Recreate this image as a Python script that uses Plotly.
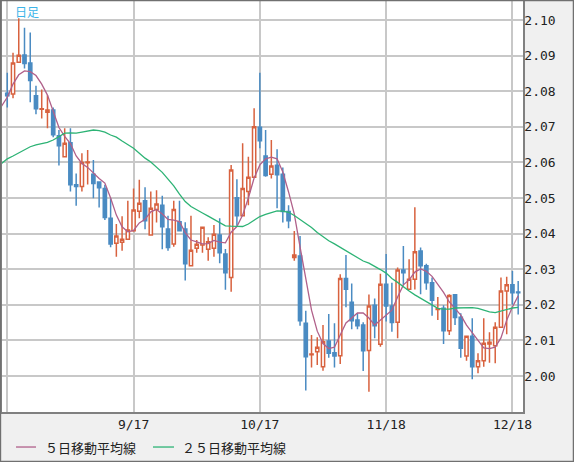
import plotly.graph_objects as go

# daily candles (index 0 = first visible day)
opens = [2.0794, 2.0792, 2.0881, 2.0902, 2.0879, 2.0787, 2.0749, 2.0741, 2.0747, 2.0675,
         2.0616, 2.0655, 2.0537, 2.0532, 2.0599, 2.0567, 2.0545, 2.0527, 2.0443, 2.0373,
         2.0376, 2.0384, 2.0408, 2.0463, 2.0492, 2.0396, 2.0468, 2.0480, 2.0413, 2.0371,
         2.0433, 2.0413, 2.0310, 2.0359, 2.0368, 2.0356, 2.0359, 2.0396, 2.0343, 2.0277,
         2.0501, 2.0450, 2.0518, 2.0558, 2.0699, 2.0618, 2.0567, 2.0592, 2.0567, 2.0462,
         2.0333, 2.0337, 2.0148, 2.0060, 2.0068, 2.0026, 2.0098, 2.0065, 2.0057, 2.0274,
         2.0207, 2.0157, 2.0143, 2.0072, 2.0199, 2.0089, 2.0258, 2.0197, 2.0151, 2.0298,
         2.0244, 2.0272, 2.0351, 2.0310, 2.0262, 2.0187, 2.0190, 2.0127, 2.0228, 2.0165,
         2.0056, 2.0112, 2.0026, 2.0043, 2.0090, 2.0085, 2.0137, 2.0239, 2.0256, 2.0236]
highs = [2.0852, 2.0908, 2.1005, 2.0978, 2.0965, 2.0815, 2.0805, 2.0789, 2.0754, 2.0691,
         2.0696, 2.0696, 2.0569, 2.0626, 2.0635, 2.0607, 2.0546, 2.0537, 2.0499, 2.0427,
         2.0449, 2.0492, 2.0527, 2.0551, 2.0530, 2.0518, 2.0522, 2.0506, 2.0450, 2.0492,
         2.0492, 2.0432, 2.0450, 2.0382, 2.0419, 2.0390, 2.0424, 2.0443, 2.0357, 2.0593,
         2.0553, 2.0654, 2.0616, 2.0752, 2.0852, 2.0691, 2.0663, 2.0637, 2.0586, 2.0480,
         2.0407, 2.0393, 2.0183, 2.0115, 2.0109, 2.0143, 2.0174, 2.0148, 2.0286, 2.0340,
         2.0260, 2.0176, 2.0151, 2.0229, 2.0218, 2.0287, 2.0343, 2.0262, 2.0305, 2.0365,
         2.0328, 2.0474, 2.0361, 2.0315, 2.0277, 2.0222, 2.0199, 2.0230, 2.0229, 2.0176,
         2.0113, 2.0162, 2.0064, 2.0162, 2.0123, 2.0151, 2.0277, 2.0279, 2.0295, 2.0267]
lows = [2.0754, 2.0780, 2.0880, 2.0864, 2.0769, 2.0735, 2.0723, 2.0696, 2.0671, 2.0591,
        2.0614, 2.0518, 2.0478, 2.0518, 2.0538, 2.0499, 2.0473, 2.0438, 2.0362, 2.0335,
        2.0352, 2.0382, 2.0405, 2.0443, 2.0412, 2.0394, 2.0431, 2.0356, 2.0352, 2.0363,
        2.0406, 2.0268, 2.0309, 2.0346, 2.0346, 2.0324, 2.0335, 2.0317, 2.0242, 2.0237,
        2.0422, 2.0449, 2.0480, 2.0557, 2.0640, 2.0560, 2.0555, 2.0471, 2.0431, 2.0415,
        2.0324, 2.0141, 1.9959, 2.0024, 2.0031, 2.0015, 2.0051, 2.0024, 2.0034, 2.0193,
        2.0131, 2.0131, 2.0014, 1.9956, 2.0106, 2.0082, 2.0153, 2.0124, 2.0106, 2.0256,
        2.0242, 2.0243, 2.0230, 2.0242, 2.0169, 2.0157, 2.0090, 2.0115, 2.0143, 2.0051,
        2.0043, 1.9991, 2.0008, 2.0026, 2.0037, 2.0036, 2.0136, 2.0117, 2.0200, 2.0173]
closes = [2.0787, 2.0879, 2.0901, 2.0878, 2.0830, 2.0751, 2.0751, 2.0747, 2.0678, 2.0647,
          2.0654, 2.0537, 2.0532, 2.0600, 2.0601, 2.0541, 2.0529, 2.0445, 2.0371, 2.0393,
          2.0384, 2.0410, 2.0466, 2.0485, 2.0436, 2.0471, 2.0483, 2.0419, 2.0361, 2.0468,
          2.0408, 2.0315, 2.0353, 2.0370, 2.0418, 2.0377, 2.0398, 2.0346, 2.0290, 2.0579,
          2.0450, 2.0527, 2.0558, 2.0700, 2.0661, 2.0563, 2.0590, 2.0565, 2.0462, 2.0436,
          2.0340, 2.0155, 2.0054, 2.0062, 2.0081, 2.0096, 2.0064, 2.0056, 2.0274, 2.0244,
          2.0155, 2.0141, 2.0071, 2.0197, 2.0141, 2.0258, 2.0197, 2.0150, 2.0298, 2.0290,
          2.0272, 2.0349, 2.0310, 2.0262, 2.0213, 2.0189, 2.0127, 2.0226, 2.0164, 2.0078,
          2.0112, 2.0026, 2.0043, 2.0092, 2.0095, 2.0137, 2.0239, 2.0256, 2.0234, 2.0234]

# moving averages as drawn (first value is the day before index 0)
ma5 = [2.0758, 2.0783, 2.0820, 2.0846, 2.0857, 2.0855, 2.0844, 2.0820, 2.0789, 2.0744,
       2.0698, 2.0673, 2.0653, 2.0618, 2.0597, 2.0586, 2.0569, 2.0555, 2.0542, 2.0500,
       2.0452, 2.0419, 2.0405, 2.0409, 2.0430, 2.0440, 2.0461, 2.0468, 2.0455, 2.0440,
       2.0438, 2.0434, 2.0403, 2.0382, 2.0377, 2.0371, 2.0372, 2.0381, 2.0376, 2.0374,
       2.0404, 2.0420, 2.0452, 2.0500, 2.0556, 2.0593, 2.0610, 2.0615, 2.0610, 2.0573,
       2.0517, 2.0455, 2.0363, 2.0270, 2.0185, 2.0126, 2.0091, 2.0077, 2.0081, 2.0115,
       2.0149, 2.0163, 2.0177, 2.0177, 2.0163, 2.0143, 2.0157, 2.0171, 2.0185, 2.0222,
       2.0256, 2.0270, 2.0292, 2.0301, 2.0294, 2.0280, 2.0258, 2.0235, 2.0208, 2.0191,
       2.0171, 2.0143, 2.0121, 2.0098, 2.0079, 2.0077, 2.0081, 2.0107, 2.0157, 2.0194,
       2.0225]
ma25 = [2.0597, 2.0610, 2.0618, 2.0626, 2.0636, 2.0644, 2.0649, 2.0652, 2.0656, 2.0663,
        2.0672, 2.0682, 2.0683, 2.0682, 2.0685, 2.0689, 2.0691, 2.0689, 2.0685, 2.0677,
        2.0671, 2.0660, 2.0650, 2.0640, 2.0626, 2.0612, 2.0601, 2.0586, 2.0572, 2.0553,
        2.0534, 2.0511, 2.0490, 2.0476, 2.0466, 2.0458, 2.0449, 2.0440, 2.0431, 2.0422,
        2.0421, 2.0420, 2.0420, 2.0427, 2.0438, 2.0448, 2.0454, 2.0460, 2.0464, 2.0463,
        2.0460, 2.0451, 2.0440, 2.0428, 2.0417, 2.0403, 2.0391, 2.0380, 2.0371, 2.0361,
        2.0351, 2.0341, 2.0331, 2.0323, 2.0317, 2.0309, 2.0299, 2.0289, 2.0274, 2.0263,
        2.0250, 2.0239, 2.0228, 2.0218, 2.0209, 2.0199, 2.0190, 2.0188, 2.0188, 2.0191,
        2.0192, 2.0192, 2.0192, 2.0190, 2.0184, 2.0180, 2.0178, 2.0183, 2.0187, 2.0191,
        2.0193]

tick_idx = [0, 22, 44, 66, 88]
tick_labels = ["", "9/17", "10/17", "11/18", "12/18"]
price_ticks = [2.00, 2.01, 2.02, 2.03, 2.04, 2.05, 2.06, 2.07, 2.08, 2.09, 2.10]

days = list(range(len(opens)))
ma_days = list(range(-1, len(opens)))

UP = "#d8623f"
DOWN = "#4a8bc2"
MA5_COLOR = "#b0608a"
MA25_COLOR = "#2db375"
MONO = "DejaVu Sans Mono"
JP = "Noto Sans CJK JP"

fig = go.Figure()
fig.add_trace(go.Candlestick(
    x=days, open=opens, high=highs, low=lows, close=closes,
    increasing=dict(line=dict(color=UP, width=1.5), fillcolor="white"),
    decreasing=dict(line=dict(color=DOWN, width=1.5), fillcolor=DOWN),
    whiskerwidth=0, showlegend=False, hoverinfo="skip"))
fig.add_trace(go.Scatter(x=ma_days, y=ma5, mode="lines", name="５日移動平均線",
                         line=dict(color=MA5_COLOR, width=1.3), showlegend=False))
fig.add_trace(go.Scatter(x=ma_days, y=ma25, mode="lines", name="２５日移動平均線",
                         line=dict(color=MA25_COLOR, width=1.3), showlegend=False))

# key drawn under the chart, like the original
key_y = -0.0852
key = [(MA5_COLOR, 0.0269, 0.0653, 0.0780, "５日移動平均線"),
       (MA25_COLOR, 0.2898, 0.3301, 0.3410, "２５日移動平均線")]
shapes = [dict(type="rect", xref="paper", yref="paper",
               x0=-0.003, x1=1.0969, y0=-0.1204, y1=1.0012,
               line=dict(color="#707070", width=1.5), layer="above")]
annotations = [dict(text="日足", xref="paper", yref="paper", x=0.022, y=1.0,
                    xanchor="left", yanchor="top", showarrow=False,
                    font=dict(family=JP, size=12, color="#3cb4e8"))]
for color, x0, x1, xt, label in key:
    shapes.append(dict(type="line", xref="paper", yref="paper", x0=x0, x1=x1,
                       y0=key_y, y1=key_y, line=dict(color=color, width=1.3)))
    annotations.append(dict(text=label, xref="paper", yref="paper", x=xt, y=key_y,
                            xanchor="left", yanchor="middle", showarrow=False,
                            font=dict(family=JP, size=13, color="#222222")))

fig.update_layout(
    width=574, height=462,
    margin=dict(l=2, r=51, t=1, b=50, autoexpand=False),
    paper_bgcolor="#f0f0f0", plot_bgcolor="white",
    boxgap=0.2,
    font=dict(family=MONO, size=13, color="#222222"),
    showlegend=False,
    annotations=annotations,
    shapes=shapes,
)
fig.update_xaxes(
    range=[-0.92, 89.84], rangeslider=dict(visible=False),
    tickmode="array", tickvals=tick_idx, ticktext=tick_labels,
    showgrid=True, gridcolor="#c8c8c8", gridwidth=1.5,
    showline=True, linecolor="#808080", linewidth=1.5, mirror=True,
    ticks="", zeroline=False, ticklabelstandoff=0)
fig.update_yaxes(
    side="right", range=[1.98989, 2.10534],
    tickmode="array", tickvals=price_ticks, tickformat=".2f",
    showgrid=True, gridcolor="#c8c8c8", gridwidth=1.5,
    showline=True, linecolor="#808080", linewidth=1.5, mirror=True,
    ticks="", zeroline=False, ticklabelstandoff=-3)

# the page's default body margin would push the chart off the window
fig.write_html("out.html", config={"displayModeBar": False},
               post_script="document.body.style.margin='0';")
